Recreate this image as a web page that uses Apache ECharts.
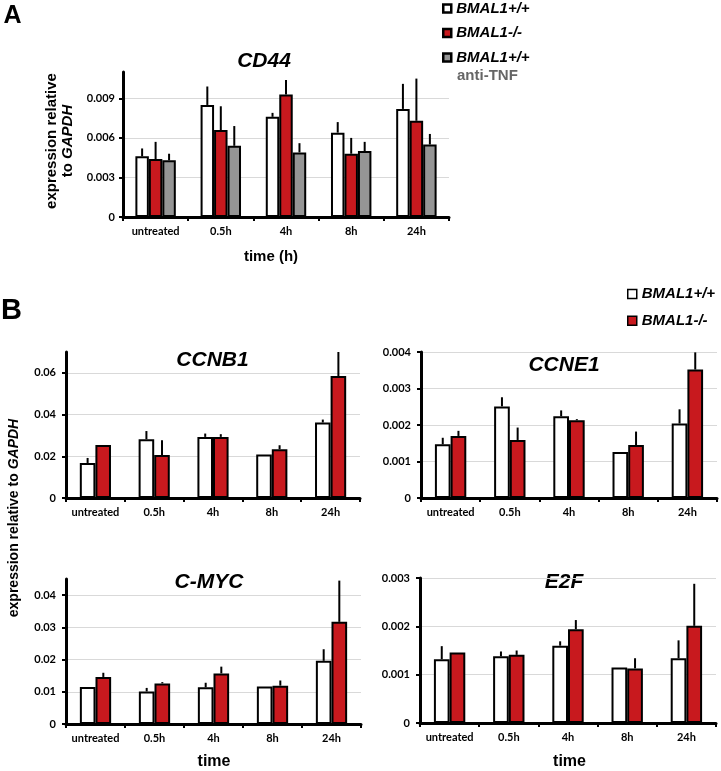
<!DOCTYPE html>
<html><head><meta charset="utf-8">
<script src="https://cdn.jsdelivr.net/npm/echarts@6/dist/echarts.min.js"></script>
<style>html,body{margin:0;padding:0;background:#fff}#c{width:721px;height:771px}</style>
</head><body><div id="c"></div><script>
// ---------- data ----------
const categories = ['untreated', '0.5h', '4h', '8h', '24h'];
const nameWt = 'BMAL1+/+';
const nameKo = 'BMAL1-/-';
const nameTnf = 'BMAL1+/+ anti-TNF';

// CD44 (panel A)
const cd44Wt     = [0.0046, 0.0085, 0.0076, 0.0064, 0.0082];
const cd44WtErr  = [0.0006, 0.0014, 0.0003, 0.0008, 0.0019];
const cd44Ko     = [0.0044, 0.0066, 0.0093, 0.0048, 0.0073];
const cd44KoErr  = [0.0013, 0.0018, 0.0011, 0.0012, 0.0032];
const cd44Tnf    = [0.0043, 0.0054, 0.0049, 0.0050, 0.0055];
const cd44TnfErr = [0.0005, 0.0015, 0.0007, 0.0007, 0.0008];

// CCNB1
const ccnb1Wt    = [0.0168, 0.0282, 0.0293, 0.0208, 0.0362];
const ccnb1WtErr = [0.0024, 0.0039, 0.0016, 0, 0.0014];
const ccnb1Ko    = [0.0254, 0.0206, 0.0293, 0.0234, 0.0585];
const ccnb1KoErr = [0, 0.0071, 0.0013, 0.0019, 0.0115];

// CCNE1
const ccne1Wt    = [0.00147, 0.00251, 0.00224, 0.00126, 0.00204];
const ccne1WtErr = [0.00018, 0.00025, 0.00016, 0, 0.00039];
const ccne1Ko    = [0.00170, 0.00159, 0.00213, 0.00145, 0.00352];
const ccne1KoErr = [0.00014, 0.00034, 0.00003, 0.00037, 0.00047];

// C-MYC
const cmycWt    = [0.0115, 0.0101, 0.0114, 0.0116, 0.0196];
const cmycWtErr = [0, 0.0011, 0.0014, 0, 0.0036];
const cmycKo    = [0.0146, 0.0126, 0.0157, 0.0119, 0.0317];
const cmycKoErr = [0.0013, 0.0004, 0.0021, 0.0016, 0.0128];

// E2F
const e2fWt    = [0.00132, 0.00138, 0.00160, 0.00115, 0.00134];
const e2fWtErr = [0.00027, 0.00010, 0.00009, 0, 0.00037];
const e2fKo    = [0.00146, 0.00141, 0.00194, 0.00113, 0.00201];
const e2fKoErr = [0, 0.00009, 0.00019, 0.00021, 0.00087];

// y-axis scales
const yMax      = [0.011, 0.07, 0.004, 0.045, 0.003];
const yInterval = [0.003, 0.02, 0.001, 0.01, 0.001];

// ---------- style / layout ----------
const WHITE = '#ffffff', RED = '#c8191e', GRAY = '#959595';
const LABEL_FONT = 'Lato';
const TEXT_FONT = 'Liberation Sans';

const layout = [
  { grid: { left: 123, top: 72, width: 326, height: 145 }, gap: 0.38, labelMargin: 8 },
  { grid: { left: 66, top: 352, width: 294, height: 146 }, gap: 0.47, labelMargin: 10 },
  { grid: { left: 421, top: 352, width: 296, height: 146 }, gap: 0.47, labelMargin: 10 },
  { grid: { left: 66, top: 579, width: 295, height: 145 }, gap: 0.47, labelMargin: 10 },
  { grid: { left: 420, top: 578, width: 296, height: 145 }, gap: 0.47, labelMargin: 10 }
];

const panelSeries = [
  [[nameWt, cd44Wt, cd44WtErr, WHITE], [nameKo, cd44Ko, cd44KoErr, RED], [nameTnf, cd44Tnf, cd44TnfErr, GRAY]],
  [[nameWt, ccnb1Wt, ccnb1WtErr, WHITE], [nameKo, ccnb1Ko, ccnb1KoErr, RED]],
  [[nameWt, ccne1Wt, ccne1WtErr, WHITE], [nameKo, ccne1Ko, ccne1KoErr, RED]],
  [[nameWt, cmycWt, cmycWtErr, WHITE], [nameKo, cmycKo, cmycKoErr, RED]],
  [[nameWt, e2fWt, e2fWtErr, WHITE], [nameKo, e2fKo, e2fKoErr, RED]]
];

const grids = [], xAxes = [], yAxes = [], series = [];

layout.forEach((L, p) => {
  grids.push(Object.assign({ containLabel: false }, L.grid));
  xAxes.push({
    type: 'category', gridIndex: p, data: categories,
    axisLine: { show: true, lineStyle: { color: '#000', width: 3 } },
    axisTick: { show: true, alignWithLabel: false, interval: 0, length: 4, lineStyle: { color: '#000', width: 2 } },
    axisLabel: { interval: 0, hideOverlap: false, color: '#000', fontFamily: LABEL_FONT, fontWeight: 'bold', fontSize: 11, margin: 9 },
    splitLine: { show: false }
  });
  const hideTop = Math.abs(yMax[p] / yInterval[p] - Math.round(yMax[p] / yInterval[p])) > 1e-6;
  const nLines = Math.floor(yMax[p] / yInterval[p] + 1e-6) + 2;
  const lineColors = [];
  for (let i = 0; i < nLines; i++) lineColors.push('#d9d9d9');
  if (hideTop) lineColors[nLines - 1] = 'rgba(0,0,0,0)';
  yAxes.push({
    type: 'value', gridIndex: p, min: 0, max: yMax[p], interval: yInterval[p],
    axisLine: { show: true, lineStyle: { color: '#000', width: 3 } },
    axisTick: { show: true, length: 4, lineStyle: { color: '#000', width: 2 } },
    axisLabel: { color: '#000', fontFamily: LABEL_FONT, fontWeight: 'bold', fontSize: 11,
                 margin: L.labelMargin, showMaxLabel: !hideTop },
    splitLine: { show: true, showMaxLine: !hideTop, lineStyle: { color: lineColors, width: 1 } }
  });
  const n = panelSeries[p].length;
  panelSeries[p].forEach((s, idx) => {
    const [name, vals, errs, color] = s;
    series.push({
      type: 'bar', name: name, xAxisIndex: p, yAxisIndex: p, data: vals,
      barGap: '0%', barCategoryGap: (L.gap * 100) + '%',
      itemStyle: { color: color, borderColor: '#000', borderWidth: 2 },
      z: 2
    });
  });
  panelSeries[p].forEach((s, idx) => {
    const [name, vals, errs] = s;
    const gap = L.gap;
    series.push({
      type: 'custom', name: name + ' error', xAxisIndex: p, yAxisIndex: p, z: 3, silent: true,
      data: vals.map((v, i) => [i, v, v + errs[i]]),
      encode: { x: 0, y: [1, 2] },
      renderItem: function (params, api) {
        const v = api.value(1), t = api.value(2);
        if (!(t > v + 1e-12)) return null;
        const base = api.coord([api.value(0), v]);
        const top = api.coord([api.value(0), t]);
        const band = api.size([1, 0])[0];
        const bw = band * (1 - gap) / n;
        const off = (idx - (n - 1) / 2) * bw;
        return { type: 'line',
                 shape: { x1: base[0] + off, y1: base[1], x2: top[0] + off, y2: top[1] },
                 style: { stroke: '#000', lineWidth: 2 } };
      }
    });
  });
});

function txt(x, y, text, font, extra) {
  return Object.assign({
    type: 'text', x: x, y: y, silent: true,
    style: Object.assign({ text: text, font: font, fill: '#000', align: 'center', verticalAlign: 'middle',
                           textAlign: 'center', textVerticalAlign: 'middle' }, extra || {})
  });
}

const titleFont = 'italic bold 21px "' + TEXT_FONT + '"';
const graphics = [
  txt(12.5, 16, 'A', 'bold 25px "' + TEXT_FONT + '"'),
  txt(11.5, 311, 'B', 'bold 29px "' + TEXT_FONT + '"'),
  txt(264, 61, 'CD44', titleFont),
  txt(212.5, 360, 'CCNB1', titleFont),
  txt(564, 365.5, 'CCNE1', titleFont),
  txt(209, 582.5, 'C-MYC', titleFont),
  txt(564, 582.5, 'E2F', titleFont),
  txt(271, 256.5, 'time (h)', 'bold 15px "' + TEXT_FONT + '"'),
  txt(214, 762, 'time', 'bold 16px "' + TEXT_FONT + '"'),
  txt(569.5, 762, 'time', 'bold 16px "' + TEXT_FONT + '"'),
  txt(457, 76, 'anti-TNF', 'bold 15px "' + TEXT_FONT + '"', { fill: '#666666', align: 'left', textAlign: 'left' }),
  {
    type: 'text', x: 60, y: 141, rotation: Math.PI / 2, silent: true,
    style: {
      text: '{n|expression relative}\n{n|to }{i|GAPDH}',
      align: 'center', verticalAlign: 'middle', fill: '#000',
      rich: {
        n: { fontFamily: TEXT_FONT, fontWeight: 'bold', fontSize: 15, lineHeight: 16, fill: '#000' },
        i: { fontFamily: TEXT_FONT, fontWeight: 'bold', fontStyle: 'italic', fontSize: 15, lineHeight: 16, fill: '#000' }
      }
    }
  },
  {
    type: 'text', x: 14, y: 518, rotation: Math.PI / 2, silent: true,
    style: {
      text: '{n|expression relative to }{i|GAPDH}',
      align: 'center', verticalAlign: 'middle', fill: '#000',
      rich: {
        n: { fontFamily: TEXT_FONT, fontWeight: 'bold', fontSize: 14, fill: '#000' },
        i: { fontFamily: TEXT_FONT, fontWeight: 'bold', fontStyle: 'italic', fontSize: 14, fill: '#000' }
      }
    }
  }
];

const legendText = { fontFamily: TEXT_FONT, fontWeight: 'bold', fontStyle: 'italic', fontSize: 15, color: '#000', lineHeight: 15 };

const option = {
  animation: false,
  backgroundColor: '#ffffff',
  grid: grids, xAxis: xAxes, yAxis: yAxes, series: series,
  legend: [
    {
      orient: 'vertical', left: 442, top: 1, padding: 0, itemGap: 9.5,
      itemWidth: 8, itemHeight: 8, selectedMode: false,
      textStyle: legendText,
      formatter: function (name) { return name === nameTnf ? nameWt : name; },
      data: [
        { name: nameWt, icon: 'rect', itemStyle: { color: WHITE, borderColor: '#000', borderWidth: 2.5 } },
        { name: nameKo, icon: 'rect', itemStyle: { color: RED, borderColor: '#000', borderWidth: 2.5 } },
        { name: nameTnf, icon: 'rect', itemStyle: { color: GRAY, borderColor: '#000', borderWidth: 2.5 } }
      ]
    },
    {
      orient: 'vertical', left: 627, top: 286.5, padding: 0, itemGap: 11.7,
      itemWidth: 9, itemHeight: 9, selectedMode: false,
      textStyle: legendText,
      data: [
        { name: nameWt, icon: 'rect', itemStyle: { color: WHITE, borderColor: '#000', borderWidth: 1.5 } },
        { name: nameKo, icon: 'rect', itemStyle: { color: RED, borderColor: '#000', borderWidth: 1.5 } }
      ]
    }
  ],
  graphic: graphics
};

const chart = echarts.init(document.getElementById('c'), null, { renderer: 'canvas' });
chart.setOption(option);
</script></body></html>
